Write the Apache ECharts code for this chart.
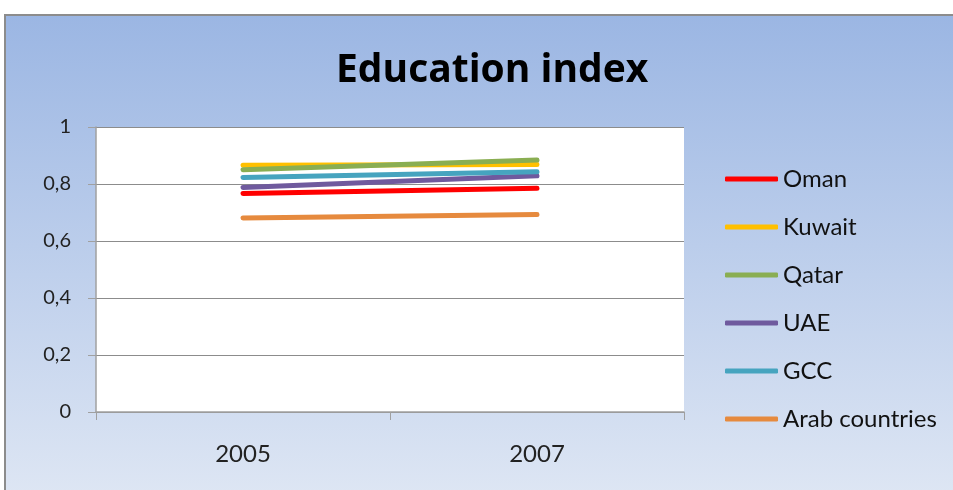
<!DOCTYPE html>
<html><head><meta charset="utf-8">
<script src="https://cdn.jsdelivr.net/npm/echarts@6/dist/echarts.min.js"></script>
<style>html,body{margin:0;padding:0;background:#fff}#c{width:953px;height:490px}</style>
</head><body><div id="c"></div>
<script>
var categories = ['2005', '2007'];
var seriesNames = ['Oman', 'Kuwait', 'Qatar', 'UAE', 'GCC', 'Arab countries'];
var oman = [0.767, 0.785];
var kuwait = [0.866, 0.868];
var qatar = [0.850, 0.884];
var uae = [0.788, 0.829];
var gcc = [0.823, 0.843];
var arab = [0.681, 0.693];
var yTicks = [0, 0.2, 0.4, 0.6, 0.8, 1];
var colors = ['#ff0000', '#ffc000', '#8aae52', '#6f5a9e', '#46a4bf', '#e68a3e'];
var values = [oman, kuwait, qatar, uae, gcc, arab];

var chart = echarts.init(document.getElementById('c'));
var font = 'Lato, "Open Sans", sans-serif';
chart.setOption({
  animation: false,
  graphic: [{
    type: 'rect', z: -10, silent: true,
    shape: {x: 5, y: 15, width: 960, height: 490},
    style: {
      fill: new echarts.graphic.LinearGradient(0, 0, 0, 1, [
        {offset: 0, color: '#9bb6e3'},
        {offset: 1, color: '#dfe7f4'}
      ]),
      stroke: '#8c8c8c', lineWidth: 2
    }
  }],
  title: {
    text: 'Education index', left: 331, top: 46,
    textStyle: {fontFamily: '"Open Sans", Lato, sans-serif', fontWeight: 'bold', fontSize: 39, color: '#000'}
  },
  legend: {
    orient: 'vertical', left: 725, top: 167, padding: 0,
    itemWidth: 53, itemHeight: 5, itemGap: 24, icon: 'roundRect',
    textStyle: {fontFamily: font, fontSize: 24, color: '#111', lineHeight: 24},
    data: seriesNames
  },
  grid: {left: 96, right: 269, top: 127, bottom: 78, show: true, backgroundColor: '#fff', borderWidth: 0},
  xAxis: {
    type: 'category', data: categories, boundaryGap: true,
    axisLine: {lineStyle: {color: '#a0a0a0', width: 1.5}},
    axisTick: {show: true, length: 8, lineStyle: {color: '#a0a0a0'}},
    axisLabel: {fontFamily: font, fontSize: 24, color: '#222', margin: 30}
  },
  yAxis: {
    type: 'value', min: 0, max: 1, interval: 0.2,
    axisLine: {show: true, lineStyle: {color: '#a0a0a0', width: 1.5}},
    axisTick: {show: true, length: 8, lineStyle: {color: '#a0a0a0'}},
    axisLabel: {fontFamily: font, fontSize: 20, color: '#222', margin: 25,
      formatter: function (v) { return String(Math.round(v * 10) / 10).replace('.', ','); }},
    splitLine: {show: true, lineStyle: {color: '#8c8c8c', width: 1}}
  },
  series: seriesNames.map(function (n, i) {
    return {
      name: n, type: 'line', data: values[i], symbol: 'none', color: colors[i],
      lineStyle: {width: 5, color: colors[i], cap: 'round'}
    };
  })
});
</script></body></html>
